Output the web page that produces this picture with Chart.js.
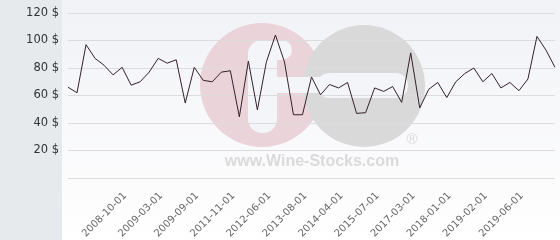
<!DOCTYPE html>
<html>
<head>
<meta charset="utf-8">
<script src="https://cdn.jsdelivr.net/npm/chart.js@4.4.0/dist/chart.umd.min.js"></script>
<style>
  html, body { margin: 0; padding: 0; background: #fff; }
  #wrap { width: 560px; height: 240px; position: relative; }
</style>
</head>
<body>
<div id="wrap"><canvas id="chart"></canvas></div>
<script>
// dates of each price point
const dates = [
  '2008-02-01', '2008-04-01', '2008-05-01', '2008-06-01', '2008-07-01', '2008-09-01',
  '2008-10-01', '2008-11-01', '2008-12-01', '2009-02-01', '2009-03-01', '2009-04-01',
  '2009-06-01', '2009-07-01', '2009-09-01', '2010-02-01', '2010-06-01', '2011-02-01',
  '2011-11-01', '2012-01-01', '2012-03-01', '2012-04-01', '2012-06-01', '2012-09-01',
  '2012-12-01', '2013-04-01', '2013-08-01', '2013-10-01', '2013-12-01', '2014-02-01',
  '2014-04-01', '2014-09-01', '2015-01-01', '2015-04-01', '2015-07-01', '2015-12-01',
  '2016-05-01', '2016-10-01', '2017-03-01', '2017-06-01', '2017-09-01', '2017-11-01',
  '2018-01-01', '2018-04-01', '2018-07-01', '2018-11-01', '2019-02-01', '2019-03-01',
  '2019-04-01', '2019-05-01', '2019-06-01', '2019-07-01', '2019-08-01', '2019-09-01',
  '2019-10-01'
];

// price in $
const prices = [
  66, 62, 97, 87, 82, 75, 80.5, 67.5, 70, 77,
  87, 83.5, 86, 54.5, 80.5, 71, 70, 77, 78, 44.5,
  85, 49.5, 84.5, 104, 84.5, 46, 46, 73.5, 60.5, 68,
  65.5, 69.5, 47, 47.5, 65.5, 63, 66.5, 55, 91, 51,
  64.5, 69.5, 58.5, 70, 76, 80, 70, 76, 65.5, 69.5,
  63.5, 72, 103, 93, 80.5
];

// dates shown on the x axis
const shownDates = [
  '2008-10-01', '2009-03-01', '2009-09-01', '2011-11-01', '2012-06-01', '2013-08-01',
  '2014-04-01', '2015-07-01', '2017-03-01', '2018-01-01', '2019-02-01', '2019-06-01'
];

const yTicks = [0, 20, 40, 60, 80, 100, 120];

// backgrounds + watermark logo
const bgPlugin = {
  id: 'bg',
  beforeDraw(chart) {
    const ctx = chart.ctx;
    ctx.save();
    ctx.fillStyle = '#e6eaed';
    ctx.fillRect(0, 0, 62, 240);
    const g = ctx.createLinearGradient(0, 0, 0, 240);
    g.addColorStop(0, '#f1f2f6');
    g.addColorStop(1, '#ffffff');
    ctx.fillStyle = g;
    ctx.fillRect(62, 0, 498, 240);

    ctx.fillStyle = '#ebd3da';
    ctx.beginPath(); ctx.arc(262, 85, 62, 0, Math.PI * 2); ctx.fill();
    ctx.fillStyle = '#d9d9d9';
    ctx.beginPath(); ctx.arc(364, 86, 61, 0, Math.PI * 2); ctx.fill();

    ctx.fillStyle = '#f4f5f8';
    ctx.beginPath(); ctx.roundRect(248, 40, 29, 93, 14); ctx.fill();
    ctx.beginPath(); ctx.roundRect(262, 40, 30, 20, 10); ctx.fill();
    ctx.fillRect(262, 77, 60, 16);
    ctx.beginPath(); ctx.roundRect(317, 73, 91, 25, 12); ctx.fill();

    ctx.fillStyle = '#dadada';
    ctx.font = 'bold 16px "Liberation Sans", Arial, sans-serif';
    ctx.textAlign = 'center';
    ctx.textBaseline = 'alphabetic';
    ctx.fillText('www.Wine-Stocks.com', 312, 166);
    ctx.font = '15px "Liberation Sans", Arial, sans-serif';
    ctx.fillText('\u00AE', 412, 144);
    ctx.restore();
  }
};

new Chart(document.getElementById('chart'), {
  type: 'line',
  data: {
    labels: dates,
    datasets: [{
      data: prices,
      borderColor: '#35202b',
      borderWidth: 1,
      pointRadius: 0,
      tension: 0,
      fill: false
    }]
  },
  options: {
    responsive: true,
    maintainAspectRatio: false,
    animation: false,
    layout: { padding: { top: 13, right: 5, left: 0, bottom: 0 } },
    plugins: { legend: { display: false }, tooltip: { enabled: false } },
    scales: {
      x: {
        offset: false,
        grid: { display: false },
        border: { display: false },
        afterFit(scale) {
          scale.height = 62;
          scale.paddingLeft = 0;
          scale.paddingRight = 0;
        },
        ticks: {
          autoSkip: false,
          minRotation: 45,
          maxRotation: 45,
          padding: 4,
          labelOffset: 3,
          color: '#666',
          font: { family: 'DejaVu Sans', size: 10 },
          callback(val, i) { return shownDates.includes(dates[i]) ? dates[i] : ''; }
        }
      },
      y: {
        min: 0,
        max: 120,
        afterFit(scale) {
          scale.width = 68;
          scale.paddingTop = 0;
          scale.paddingBottom = 0;
        },
        afterBuildTicks(scale) { scale.ticks = yTicks.map(v => ({ value: v })); },
        grid: { color: '#dcdcdc', drawTicks: false },
        border: { display: false },
        ticks: {
          padding: 9,
          color: '#333',
          font: { family: 'DejaVu Sans', size: 11.5 },
          callback(v) { return v === 0 ? '' : v + ' $'; }
        }
      }
    }
  },
  plugins: [bgPlugin]
});
</script>
</body>
</html>
